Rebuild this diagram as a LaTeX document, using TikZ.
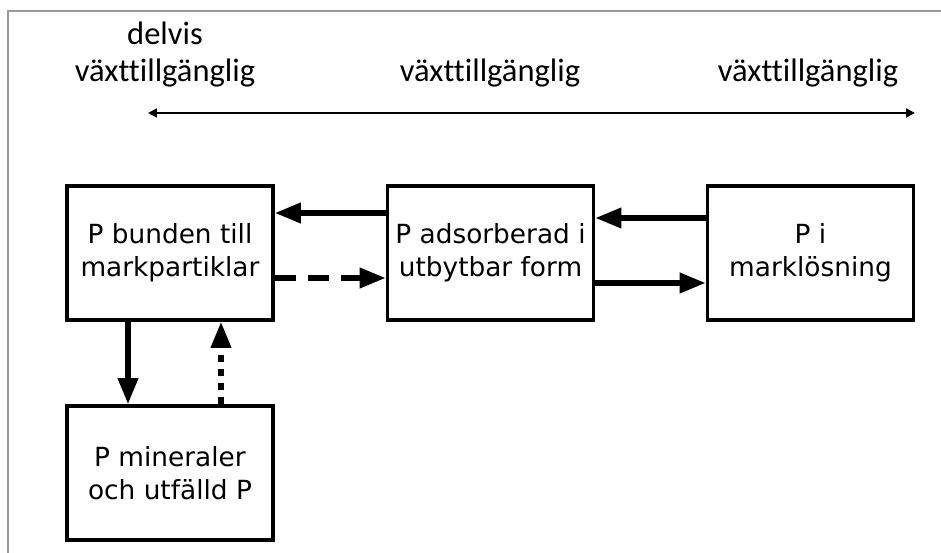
\documentclass[tikz,border=0pt]{standalone}
\usepackage{fontspec}
\setmainfont{DejaVu Sans}
\newfontfamily\labelfont[Ligatures={NoCommon}]{Carlito}
\usetikzlibrary{arrows.meta}

\tikzset{
	pbox/.style={draw, line width=1.8pt, minimum width=4.12cm, minimum height=2.68cm, align=center, inner sep=0pt, font=\fontsize{15}{19}\selectfont},
	flow/.style={line width=3.4pt, -{Triangle[length=15pt, width=11pt]}},
	zone/.style={anchor=base, align=center, font=\labelfont\fontsize{18.5}{22}\selectfont}
}

\begin{document}
\begin{tikzpicture}
			%%%%% START %%%%%
			\useasboundingbox (0, 0) rectangle (18.82, 11.06);
			
			\draw[line width=1.2pt, color=black!40] (0.16, 0) -- (0.16, 10.84) -- (18.82, 10.84);
			
			\node[zone] (delvis) at (3.3, 10.16) {delvis};
			\node[zone] (zonA) at (3.3, 9.42) {växttillgänglig};
			\node[zone] (zonB) at (9.8, 9.42) {växttillgänglig};
			\node[zone] (zonC) at (16.16, 9.42) {växttillgänglig};
			
			\coordinate (skalaV) at (2.96, 8.8);
			\coordinate (skalaH) at (18.3, 8.8);
			\draw[line width=1.1pt, {Triangle[length=5pt, width=5pt]}-{Triangle[length=5pt, width=5pt]}] (skalaV) -- (skalaH);
			
			\node[pbox] (bunden) at (3.4, 6.0) {P bunden till\\markpartiklar};
			\node[pbox] (adsorb) at (9.81, 6.0) {P adsorberad i\\utbytbar form};
			\node[pbox] (losning) at (16.21, 6.0) {P i\\marklösning};
			\node[pbox] (mineral) at (3.4, 1.6) {P mineraler\\och utfälld P};
			
			\draw[flow] ([yshift=0.8cm]adsorb.west) -- ([yshift=0.8cm]bunden.east);
			\draw[flow, dash pattern=on 12pt off 7pt] ([yshift=-0.5cm]bunden.east) -- ([yshift=-0.5cm]adsorb.west);
			\draw[flow] ([yshift=0.7cm]losning.west) -- ([yshift=0.7cm]adsorb.east);
			\draw[flow] ([yshift=-0.6cm]adsorb.east) -- ([yshift=-0.6cm]losning.west);
			
			\draw[flow] ([xshift=-0.84cm]bunden.south) -- ([xshift=-0.84cm]mineral.north);
			\draw[flow, dash pattern=on 4pt off 4pt] ([xshift=1.02cm]mineral.north) -- ([xshift=1.02cm]bunden.south);
			
			%%%%% END %%%%%
\end{tikzpicture}
\end{document}
